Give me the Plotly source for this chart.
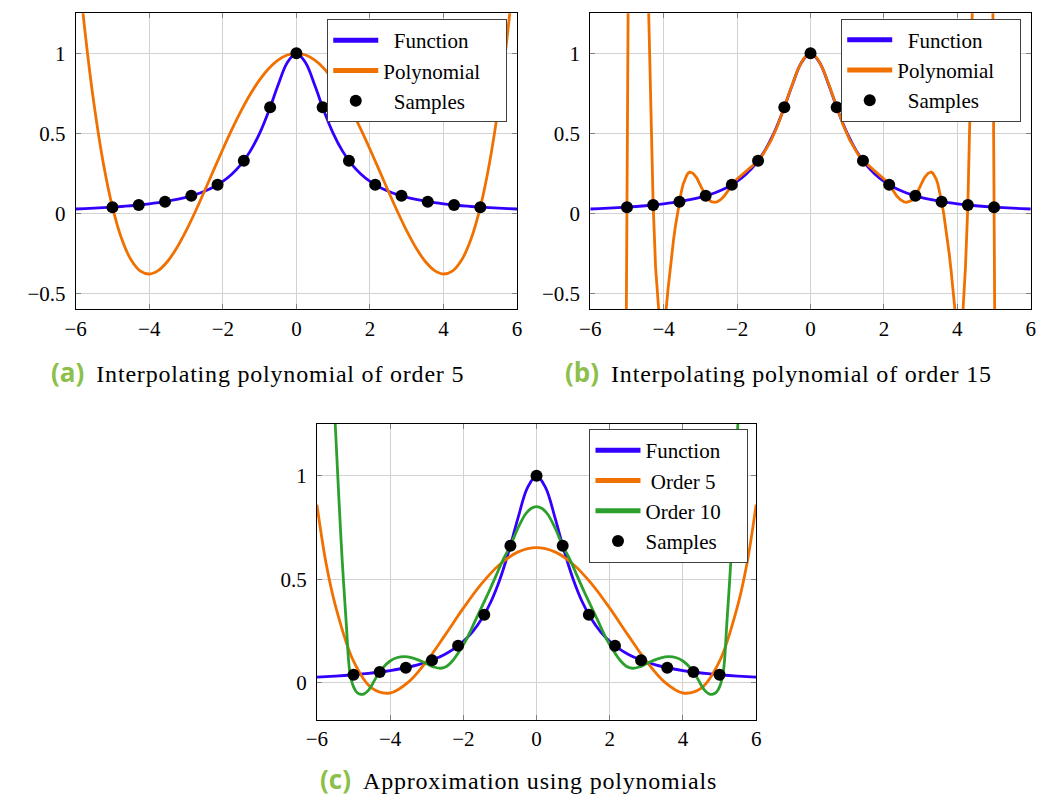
import plotly.graph_objects as go

W, H = 1041, 796

# ---------------- data ----------------
# Runge-type function (blue)
func_x = [-6, -5.75, -5.5, -5.25, -5, -4.75, -4.5, -4.25, -4, -3.75, -3.5, -3.25, -3, -2.75, -2.5, -2.25,
          -2, -1.75, -1.5, -1.25, -1, -0.75, -0.5, -0.25, 0, 0.25, 0.5, 0.75, 1, 1.25, 1.5, 1.75, 2,
          2.25, 2.5, 2.75, 3, 3.25, 3.5, 3.75, 4, 4.25, 4.5, 4.75, 5, 5.25, 5.5, 5.75, 6]
func_y = [0.0270, 0.0294, 0.0320, 0.0350, 0.0385, 0.0424, 0.0471, 0.0525, 0.0588, 0.0664, 0.0755, 0.0865,
          0.1000, 0.1168, 0.1379, 0.1649, 0.2000, 0.2462, 0.3077, 0.3902, 0.5000, 0.6400, 0.8000, 0.9412,
          1.0000, 0.9412, 0.8000, 0.6400, 0.5000, 0.3902, 0.3077, 0.2462, 0.2000, 0.1649, 0.1379, 0.1168,
          0.1000, 0.0865, 0.0755, 0.0664, 0.0588, 0.0525, 0.0471, 0.0424, 0.0385, 0.0350, 0.0320, 0.0294, 0.0270]

# samples (black dots)
samp_x = [-5, -4.286, -3.571, -2.857, -2.143, -1.429, -0.714, 0, 0.714, 1.429, 2.143, 2.857, 3.571, 4.286, 5]
samp_y = [0.0385, 0.0516, 0.0727, 0.1091, 0.1788, 0.3289, 0.6622, 1.0, 0.6622, 0.3289, 0.1788, 0.1091,
          0.0727, 0.0516, 0.0385]

# (a) interpolating polynomial of order 5
pa_x = [-6, -5.75, -5.5, -5.25, -5, -4.75, -4.5, -4.25, -4, -3.75, -3.5, -3.25, -3, -2.75, -2.5, -2.25,
        -2, -1.75, -1.5, -1.25, -1, -0.75, -0.5, -0.25, 0, 0.25, 0.5, 0.75, 1, 1.25, 1.5, 1.75, 2,
        2.25, 2.5, 2.75, 3, 3.25, 3.5, 3.75, 4, 4.25, 4.5, 4.75, 5, 5.25, 5.5, 5.75, 6]
pa_y = [1.716, 1.142, 0.679, 0.3145, 0.0385, -0.1596, -0.2892, -0.3595, -0.3794, -0.3569, -0.2998, -0.2153,
        -0.1101, 0.0095, 0.1379, 0.2698, 0.4005, 0.5258, 0.6419, 0.7456, 0.8342, 0.9054, 0.9576, 0.9893,
        1.0, 0.9893, 0.9576, 0.9054, 0.8342, 0.7456, 0.6419, 0.5258, 0.4005, 0.2698, 0.1379, 0.0095,
        -0.1101, -0.2153, -0.2998, -0.3569, -0.3794, -0.3595, -0.2892, -0.1596, 0.0385, 0.3145,
        0.679, 1.142, 1.716]

# (b) interpolating polynomial of order 15
pb_x = [-5.04, -5.0, -4.96, -4.7, -4.45, -4.408, -4.35, -4.286, -4.22, -4.156, -4.1, -4.04, -3.98, -3.933,
        -3.88, -3.83, -3.78, -3.73, -3.68, -3.63, -3.571, -3.521, -3.471, -3.421, -3.371, -3.33, -3.29,
        -3.2, -3.1, -3.0, -2.93, -2.857, -2.8, -2.75, -2.7, -2.62, -2.55, -2.45, -2.35, -2.25, -2.143,
        -2.0, -1.85, -1.75, -1.6, -1.5, -1.429, -1.3, -1.2, -1.07, -0.9, -0.8, -0.714, -0.6, -0.5, -0.35,
        -0.2, -0.1, 0,
        0.1, 0.2, 0.35, 0.5, 0.6, 0.714, 0.8, 0.9, 1.07, 1.2, 1.3, 1.429, 1.5, 1.6, 1.75, 1.85, 2.0,
        2.143, 2.25, 2.35, 2.45, 2.55, 2.62, 2.7, 2.75, 2.8, 2.857, 2.93, 3.0, 3.1, 3.2, 3.29, 3.33,
        3.371, 3.421, 3.471, 3.521, 3.571, 3.63, 3.68, 3.73, 3.78, 3.83, 3.88, 3.933, 3.98, 4.04, 4.1,
        4.156, 4.22, 4.286, 4.35, 4.408, 4.45, 4.7, 4.96, 5.0, 5.04]
pb_y = [-1.5, 0.0385, 1.6, 3.0, 1.7, 1.25, 0.64, 0.0516, -0.34, -0.6, -0.82, -0.9, -0.8, -0.6,
        -0.471, -0.359, -0.256, -0.163, -0.079, -0.004, 0.0727, 0.133, 0.181, 0.215, 0.238, 0.252, 0.258,
        0.25, 0.222, 0.175, 0.14, 0.1091, 0.09, 0.08, 0.073, 0.068, 0.071, 0.085, 0.108, 0.14, 0.1788,
        0.215, 0.243, 0.262, 0.293, 0.315, 0.3289, 0.366, 0.402, 0.457, 0.545, 0.605, 0.6622, 0.74, 0.805,
        0.895, 0.963, 0.99, 1.0,
        0.99, 0.963, 0.895, 0.805, 0.74, 0.6622, 0.605, 0.545, 0.457, 0.402, 0.366, 0.3289, 0.315, 0.293,
        0.262, 0.243, 0.215, 0.1788, 0.14, 0.108, 0.085, 0.071, 0.068, 0.073, 0.08, 0.09, 0.1091, 0.14,
        0.175, 0.222, 0.25, 0.258, 0.252, 0.238, 0.215, 0.181, 0.133, 0.0727, -0.004, -0.079, -0.163,
        -0.256, -0.359, -0.471, -0.6, -0.8, -0.9, -0.82, -0.6, -0.34, 0.0516, 0.64, 1.25, 1.7, 3.0, 1.6,
        0.0385, -1.5]

# (c) approximation, order 5
c5_x = [-6, -5.75, -5.5, -5, -4.5, -4, -3.5, -3, -2.5, -2, -1.5, -1, -0.5, 0,
        0.5, 1, 1.5, 2, 2.5, 3, 3.5, 4, 4.5, 5, 5.5, 5.75, 6]
c5_y = [0.86, 0.577, 0.376, 0.104, -0.0263, -0.0496, 0.0031, 0.1041, 0.2299, 0.3602, 0.4787, 0.5724,
        0.6323, 0.6529, 0.6323, 0.5724, 0.4787, 0.3602, 0.2299, 0.1041, 0.0031, -0.0496, -0.0263, 0.104,
        0.376, 0.577, 0.86]

# (c) approximation, order 10
c10_x = [-5.75, -5.6, -5.5, -5.4, -5.31, -5.2, -5.1, -5.0, -4.9, -4.8, -4.727, -4.6, -4.5, -4.4, -4.3,
         -4.2, -4.0, -3.8, -3.6, -3.4, -3.2, -3.0, -2.8, -2.617, -2.45, -2.3, -2.1, -1.9, -1.7, -1.5, -1.3,
         -1.1, -0.9, -0.72, -0.5, -0.3, -0.15, 0,
         0.15, 0.3, 0.5, 0.72, 0.9, 1.1, 1.3, 1.5, 1.7, 1.9, 2.1, 2.3, 2.45, 2.617, 2.8, 3.0, 3.2, 3.4,
         3.6, 3.8, 4.0, 4.2, 4.3, 4.4, 4.5, 4.6, 4.727, 4.8, 4.9, 5.0, 5.1, 5.2, 5.31, 5.4, 5.5, 5.6, 5.75]
c10_y = [2.4, 1.68, 1.25, 0.89, 0.593, 0.29, 0.05, -0.02, -0.048, -0.056, -0.055, -0.038, -0.012, 0.02,
         0.048, 0.072, 0.105, 0.122, 0.126, 0.12, 0.108, 0.092, 0.076, 0.07, 0.08, 0.105, 0.155, 0.215,
         0.29, 0.365, 0.44, 0.52, 0.6, 0.66, 0.75, 0.815, 0.842, 0.851,
         0.842, 0.815, 0.75, 0.66, 0.6, 0.52, 0.44, 0.365, 0.29, 0.215, 0.155, 0.105, 0.08, 0.07, 0.076,
         0.092, 0.108, 0.12, 0.126, 0.122, 0.105, 0.072, 0.048, 0.02, -0.012, -0.038, -0.055, -0.056,
         -0.048, -0.02, 0.05, 0.29, 0.593, 0.89, 1.25, 1.68, 2.4]

# ---------------- styles ----------------
BLUE = "#3300ff"
ORANGE = "#f07000"
GREEN = "#2ca02c"
CAP_GREEN = "#8cc04b"
SERIF = "Liberation Serif"
LW = 2.8
NB = "\u00a0"

fig = go.Figure()


def line(x, y, color, name, xa, ya, leg, shape="spline"):
    fig.add_trace(go.Scatter(x=x, y=y, mode="lines", name=name, line=dict(color=color, width=LW, shape=shape),
                             xaxis=xa, yaxis=ya, legend=leg, hoverinfo="skip"))


def dots(xa, ya, leg, name):
    fig.add_trace(go.Scatter(x=samp_x, y=samp_y, mode="markers", name=name,
                             marker=dict(color="black", size=12), xaxis=xa, yaxis=ya, legend=leg,
                             cliponaxis=False, hoverinfo="skip"))


# (a)
line(func_x, func_y, BLUE, NB * 2 + "Function", "x", "y", "legend")
line(pa_x, pa_y, ORANGE, "Polynomial" + NB * 4, "x", "y", "legend")
dots("x", "y", "legend", NB * 2 + "Samples")
# (b)
line(func_x, func_y, BLUE, NB * 2 + "Function", "x2", "y2", "legend2")
line(pb_x, pb_y, ORANGE, "Polynomial" + NB * 4, "x2", "y2", "legend2", shape="linear")
dots("x2", "y2", "legend2", NB * 2 + "Samples")
# (c)
line(func_x, func_y, BLUE, "Function" + NB * 4, "x3", "y3", "legend3")
line(c5_x, c5_y, ORANGE, NB + "Order 5", "x3", "y3", "legend3")
line(c10_x, c10_y, GREEN, "Order 10" + NB * 4, "x3", "y3", "legend3")
dots("x3", "y3", "legend3", "Samples")


def px_x(p):
    return p / W


def px_y(p):
    return 1 - p / H


axis_common = dict(showgrid=True, gridcolor="#d2d2d2", gridwidth=1, zeroline=False, showline=True,
                   linecolor="black", linewidth=1, mirror="ticks", ticks="inside", ticklen=5,
                   tickcolor="#808080", tickfont=dict(family=SERIF, size=21, color="black"))

xa = dict(axis_common, range=[-6, 6], tickvals=[-6, -4, -2, 0, 2, 4, 6])
ya_ab = dict(axis_common, range=[-0.6, 1.25], tickvals=[-0.5, 0, 0.5, 1], ticklabelstandoff=5)
ya_c = dict(axis_common, range=[-0.18, 1.25], tickvals=[0, 0.5, 1], ticklabelstandoff=5)

fig.update_layout(
    width=W, height=H, margin=dict(l=0, r=0, t=0, b=0),
    paper_bgcolor="white", plot_bgcolor="white",
    xaxis=dict(xa, domain=[px_x(65.7), px_x(514)], anchor="y"),
    yaxis=dict(ya_ab, domain=[px_y(309.3), px_y(13.3)], anchor="x"),
    xaxis2=dict(xa, domain=[px_x(588.3), px_x(1035.7)], anchor="y2"),
    yaxis2=dict(ya_ab, domain=[px_y(309.3), px_y(13.3)], anchor="x2"),
    xaxis3=dict(xa, domain=[px_x(310.7), px_x(756.8)], anchor="y3"),
    yaxis3=dict(ya_c, domain=[px_y(720), px_y(424)], anchor="x3"),
    showlegend=True,
)

leg_common = dict(bgcolor="white", bordercolor="#404040", borderwidth=1,
                  font=dict(family=SERIF, size=21, color="black"), xanchor="right", yanchor="top",
                  tracegroupgap=0, itemsizing="constant", itemwidth=45)
fig.update_layout(
    legend=dict(leg_common, x=px_x(504), y=px_y(19)),
    legend2=dict(leg_common, x=px_x(1026), y=px_y(18.5)),
    legend3=dict(leg_common, x=px_x(749), y=px_y(429)),
)

captions = [
    ("(a)", "Interpolating polynomial of order 5", 250, 372),
    ("(b)", "Interpolating polynomial of order 15", 779, 372),
    ("(c)", "Approximation using polynomials", 515, 779),
]
for lab, txt, xc, yc in captions:
    html = ("<span style='font-family:Open Sans;font-weight:bold;font-size:26px;color:%s'>%s</span>"
            % (CAP_GREEN, lab)
            + NB * 2 + "<span style='letter-spacing:0.8px'>" + txt + "</span>")
    fig.add_annotation(text=html, xref="paper", yref="paper", x=px_x(xc), y=px_y(yc),
                       xanchor="center", yanchor="middle", showarrow=False,
                       font=dict(family=SERIF, size=24, color="black"))

fig.write_html("out.html")
